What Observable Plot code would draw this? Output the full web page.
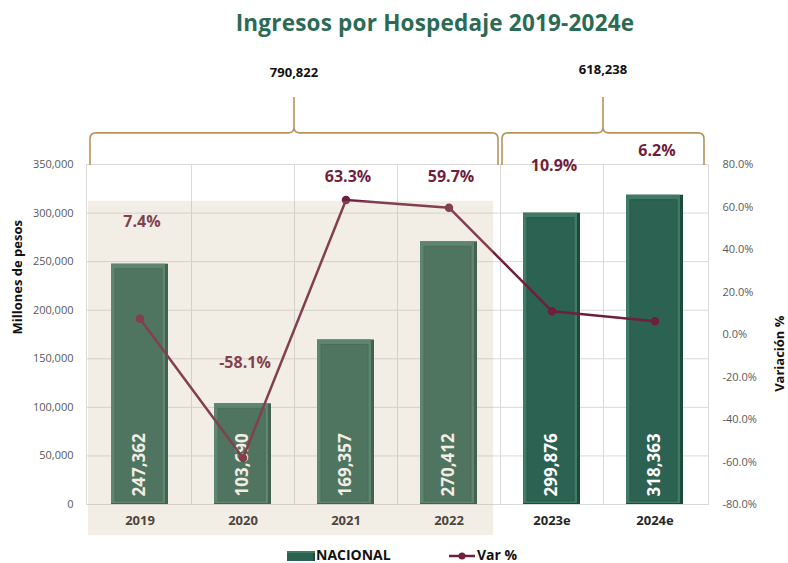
<!DOCTYPE html>
<html><head><meta charset="utf-8">
<script src="https://cdn.jsdelivr.net/npm/d3@7"></script>
<script src="https://cdn.jsdelivr.net/npm/@observablehq/plot@0.6"></script>
<style>
body{margin:0;background:#fff;font-family:"Open Sans",sans-serif;}
#wrap{position:relative;width:788px;height:563px;overflow:hidden;background:#fff}
#title{position:absolute;left:82px;top:7px;width:706px;text-align:center;font-size:22.5px;font-weight:700;color:#2d6a54;letter-spacing:0.2px}
#chart{position:absolute;left:0;top:48px}
.lg{position:absolute;font-size:14px;font-weight:700;color:#111;line-height:18px;white-space:nowrap}
</style></head><body>
<div id="wrap">
<div id="title">Ingresos por Hospedaje 2019-2024e</div>
<div id="chart"></div>
<div id="legend"></div>
</div>
<script>
// ---- data ----
const years = ["2019","2020","2021","2022","2023e","2024e"];
const ingresos = [247362,103690,169357,270412,299876,318363];
const variacion = [7.4,-58.1,63.3,59.7,10.9,6.2];
const groupLabels = ["790,822","618,238"];
const groupRanges = [["2019","2022"],["2023e","2024e"]];
const shadedRange = ["2019","2022"];
const leftTicks = [0,50000,100000,150000,200000,250000,300000,350000];
const rightTicks = [-80,-60,-40,-20,0,20,40,60,80];
const seriesNames = ["NACIONAL","Var %"];

// ---- layout / style ----
const Y_MAX = 350000, P_MIN = -80, P_MAX = 80;
const toY = p => (p - P_MIN) / (P_MAX - P_MIN) * Y_MAX;
// where each percentage label sits, on the right-axis scale
const labelAt = [53.2, -13.2, 74.4, 74.0, 79.5, 86.6];
const green = "#2c6251", maroon = "#6e1f3c";
const rows = years.map((y,i)=>({year:y, ingresos:ingresos[i], v:variacion[i], at:labelAt[i]}));

function edges(scales, a, b){
  const x = scales.x, bw = x.bandwidth(), step = x.step();
  return [x(a) + bw/2 - step/2, x(b) + bw/2 + step/2];
}

const vgrid = (index, scales, values, dim) => {
  const g = d3.create("svg:g");
  const x = scales.x, bw = x.bandwidth(), step = x.step();
  years.slice(1).forEach(y => {
    const xx = Math.round(x(y) + bw/2 - step/2) + 0.5;
    g.append("line").attr("x1",xx).attr("x2",xx)
      .attr("y1",dim.marginTop).attr("y2",dim.height-dim.marginBottom)
      .attr("stroke","#d9d9d9");
  });
  return g.node();
};

const braces = (index, scales) => {
  const g = d3.create("svg:g");
  const y = scales.y;
  const yE = y(349000), yH = y(382000), yP = y(419000), yT = y(444000);
  groupRanges.forEach(([a,b],i) => {
    let [x0,x1] = edges(scales,a,b); x0 += 2; x1 -= 2;
    const cx = (x0+x1)/2, r = 6;
    const d = `M${x0},${yE} L${x0},${yH+r} Q${x0},${yH} ${x0+r},${yH} L${cx-r},${yH} Q${cx},${yH} ${cx},${yH-r} L${cx},${yP} M${cx},${yH-r} Q${cx},${yH} ${cx+r},${yH} L${x1-r},${yH} Q${x1},${yH} ${x1},${yH+r} L${x1},${yE}`;
    g.append("path").attr("d",d).attr("fill","none").attr("stroke","#b8935e").attr("stroke-width",1.6);
    g.append("text").attr("x",cx).attr("y",yT - (i?3:0)).attr("text-anchor","middle").attr("dy","0.35em")
      .attr("font-size",13).attr("font-weight",700).attr("fill","#111").attr("font-family","Open Sans")
      .text(groupLabels[i]);
  });
  return g.node();
};

const shade = (index, scales) => {
  const [x0,x1] = edges(scales, shadedRange[0], shadedRange[1]);
  const y0 = scales.y(312000), y1 = scales.y(-32000);
  return d3.create("svg:rect").attr("x",x0).attr("width",x1-7-x0).attr("y",y0).attr("height",y1-y0)
    .attr("fill","rgb(200,178,142)").attr("fill-opacity",0.23).node();
};

const chart = Plot.plot({
  width: 788, height: 492,
  marginLeft: 86, marginRight: 80, marginTop: 116, marginBottom: 36,
  style: {fontFamily: "Open Sans", overflow: "visible", background: "transparent"},
  x: {domain: years, paddingInner: 0.45, paddingOuter: 0.225, label: null},
  y: {domain: [0, Y_MAX], label: null},
  marks: [
    Plot.gridY(leftTicks, {stroke: "#d9d9d9", strokeOpacity: 1}),
    vgrid,
    Plot.frame({stroke: "#d9d9d9"}),
    Plot.barY(rows, {x: "year", y: "ingresos", fill: "#1e4a3c"}),
    Plot.barY(rows, {x: "year", y: "ingresos", fill: "#3f7a66", insetRight: 3, insetBottom: 1}),
    Plot.barY(rows, {x: "year", y: "ingresos", fill: green, stroke: "#26584a", strokeWidth: 1, insetLeft: 4, insetRight: 6, insetTop: 5, insetBottom: 3}),
    Plot.text(rows, {x: "year", y: 0, text: d => d3.format(",")(d.ingresos), rotate: -90, textAnchor: "start", lineAnchor: "middle", dy: -8, fill: "#fff", fontSize: 17, fontWeight: 700}),
    Plot.line(rows, {x: "year", y: d => toY(d.v), stroke: maroon, strokeWidth: 2.5}),
    Plot.dot(rows, {x: "year", y: d => toY(d.v), r: 3.5, fill: maroon, stroke: maroon}),
    Plot.text(rows, {x: "year", y: d => toY(d.at), text: d => d.v.toFixed(1) + "%", fill: maroon, fontSize: 16, fontWeight: 700, dx: 2}),
    Plot.axisX({tickSize: 0, tickPadding: 11, fontSize: 13, fontWeight: 700, color: "#262626", label: null}),
    braces,
    shade,
    Plot.axisY(leftTicks, {anchor: "left", tickSize: 0, tickPadding: 13, fontSize: 11, color: "#595959", tickFormat: d3.format(","), label: null}),
    Plot.axisY(rightTicks.map(toY), {anchor: "right", tickSize: 0, tickPadding: 14, fontSize: 11, color: "#595959", label: null,
      tickFormat: v => (Math.round(v / Y_MAX * (P_MAX - P_MIN) + P_MIN)).toFixed(1) + "%"}),
    Plot.text(["Millones de pesos"], {frameAnchor: "left", dx: -69, rotate: -90, fontSize: 13, fontWeight: 700, fill: "#111"}),
    Plot.text(["Variación %"], {frameAnchor: "right", dx: 71, dy: -19, rotate: -90, fontSize: 13, fontWeight: 700, fill: "#111"})
  ]
});
document.getElementById("chart").appendChild(chart);

// legend
const lg = document.getElementById("legend");
lg.innerHTML = `
<div style="position:absolute;left:287px;top:551px;width:28px;height:10px;background:${green};box-shadow:inset 0 2px 0 #3f7a66, inset -2px 0 0 #1e4a3c"></div>
<div class="lg" style="left:316px;top:546px">${seriesNames[0]}</div>
<svg style="position:absolute;left:448px;top:549px" width="28" height="14"><line x1="1" y1="7" x2="27" y2="7" stroke="${maroon}" stroke-width="2.5"/><circle cx="14" cy="7" r="3.5" fill="${maroon}"/></svg>
<div class="lg" style="left:477px;top:546px">${seriesNames[1]}</div>`;
</script>
</body></html>
